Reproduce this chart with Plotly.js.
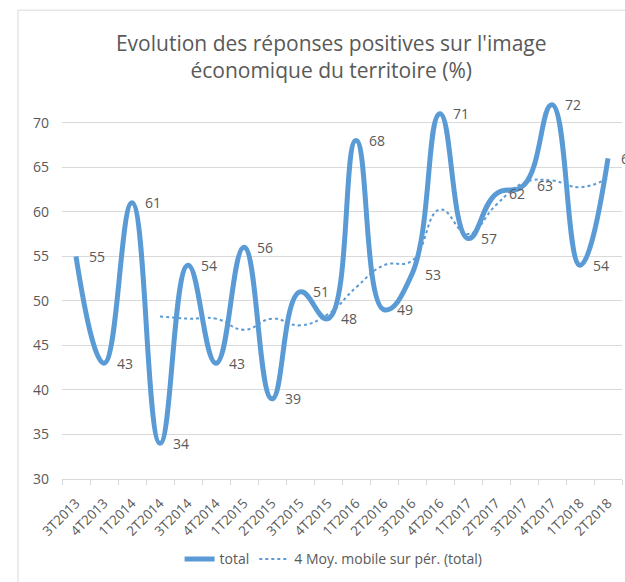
<!DOCTYPE html>
<html>
<head>
<meta charset="utf-8">
<script src="https://cdn.plot.ly/plotly-3.0.1.min.js"></script>
<style>html,body{margin:0;padding:0;background:#fff;overflow:hidden;}#chart{width:625px;height:582px;}</style>
</head>
<body>
<div id="chart"></div>
<script>
const categories = ["3T2013","4T2013","1T2014","2T2014","3T2014","4T2014","1T2015","2T2015","3T2015","4T2015","1T2016","2T2016","3T2016","4T2016","1T2017","2T2017","3T2017","4T2017","1T2018","2T2018"];
const totalValues = [55,43,61,34,54,43,56,39,51,48,68,49,53,71,57,62,63,72,54,66];
const movingAvg = [null,null,null,48.25,48,48,46.75,48,47.25,48.5,51.5,54,54.5,60.25,57.5,60.75,63.25,63.5,62.75,63.75];
const yTicks = [30,35,40,45,50,55,60,65,70];

const blue = "#5B9BD5";
const grey = "#595959";
const font = "Open Sans, Liberation Sans, sans-serif";

const traces = [
  {
    x: categories, y: totalValues, name: "total", type: "scatter", mode: "lines",
    line: {color: blue, width: 5, shape: "spline", smoothing: 1.3}
  },
  {
    x: categories, y: movingAvg, name: "4 Moy. mobile sur pér. (total)", type: "scatter", mode: "lines",
    line: {color: blue, width: 2, dash: "dot", shape: "spline", smoothing: 1.3}
  }
];

const labelAnnotations = categories.map((c, i) => ({
  x: c, y: totalValues[i], xref: "x", yref: "y",
  text: String(totalValues[i]), showarrow: false,
  xanchor: "left", yanchor: "middle", xshift: 11,
  font: {family: font, size: 14, color: grey}
}));

const layout = {
  width: 625, height: 582,
  margin: {l: 62, r: 3, t: 87, b: 103},
  paper_bgcolor: "#fff", plot_bgcolor: "#fff",
  font: {family: font, color: grey},
  title: {
    text: "Evolution des réponses positives sur l'image<br>économique du territoire (%)",
    font: {family: font, size: 21, color: grey},
    x: 0.53, xref: "container", xanchor: "center", y: 0.913, yref: "container", yanchor: "middle"
  },
  xaxis: {
    type: "category", range: [-0.5, 19.5], tickangle: -45,
    tickfont: {family: font, size: 13.5, color: grey},
    showgrid: false, showline: true, linecolor: "#d9d9d9", linewidth: 1,
    ticks: "outside", tickson: "boundaries", ticklen: 5, tickcolor: "#d9d9d9",
    ticklabelstandoff: 10
  },
  yaxis: {
    range: [30, 74], tickvals: yTicks, ticktext: yTicks.map(String),
    tickfont: {family: font, size: 14, color: grey},
    showgrid: true, gridcolor: "#d9d9d9", gridwidth: 1, zeroline: false,
    showline: false, ticks: "", ticklabelstandoff: 12
  },
  showlegend: true,
  legend: {
    orientation: "h", x: 0.485, xanchor: "center", y: -0.205, yanchor: "middle",
    font: {family: font, size: 14, color: grey}, bgcolor: "rgba(0,0,0,0)"
  },
  annotations: labelAnnotations,
  shapes: [
    {type: "line", xref: "paper", yref: "paper", x0: -0.0786, x1: -0.0786, y0: 1.196, y1: -0.27, line: {color: "#d9d9d9", width: 1}},
    {type: "line", xref: "paper", yref: "paper", x0: -0.0786, x1: 1.02, y0: 1.196, y1: 1.196, line: {color: "#d9d9d9", width: 1}}
  ]
};

Plotly.newPlot("chart", traces, layout, {displayModeBar: false, staticPlot: true});
</script>
</body>
</html>
